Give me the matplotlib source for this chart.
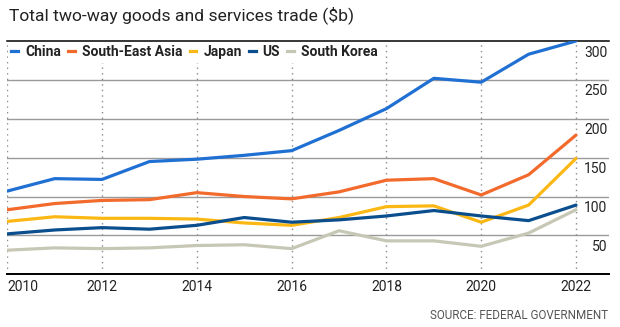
import matplotlib
matplotlib.use("Agg")
import matplotlib.pyplot as plt
from matplotlib.lines import Line2D

plt.rcParams['font.family'] = ['Roboto', 'DejaVu Sans']

years = list(range(2010, 2023))

china = [107, 123, 122, 145, 148, 153, 159, 185, 213, 252, 247, 283, 300]
south_east_asia = [83, 91, 95, 96, 105, 100, 97, 106, 121, 123, 102, 128, 179]
japan = [68, 74, 72, 72, 71, 66, 63, 73, 87, 88, 67, 89, 149]
us = [52, 57, 60, 58, 63, 73, 67, 70, 75, 82, 75, 69, 89]
south_korea = [31, 34, 33, 34, 37, 38, 33, 56, 43, 43, 36, 53, 83]

series = [
    ("China", china, "#1f70d2"),
    ("South-East Asia", south_east_asia, "#f26a2c"),
    ("Japan", japan, "#fbb814"),
    ("US", us, "#0b4e8e"),
    ("South Korea", south_korea, "#c7c7b6"),
]

y_ticks = [50, 100, 150, 200, 250, 300]
x_ticks = [2010, 2012, 2014, 2016, 2018, 2020, 2022]

W, H = 620, 327
fig = plt.figure(figsize=(W / 100, H / 100), dpi=100)
left, right, top, bottom = 7.3, 609, 41, 274.3
ax = fig.add_axes([left / W, 1 - bottom / H, (right - left) / W, (bottom - top) / H])

x_right = 2010 + (right - left) / ((576 - 7.3) / 12)
ax.set_xlim(2010, x_right)
ax.set_ylim(0, 300)

# horizontal grid and dotted year lines
for v in y_ticks[:-1]:
    ax.axhline(v, color="#9a9a9a", lw=1.0, zorder=1)
for yr in x_ticks:
    ax.axvline(yr, color="#8a8a8a", lw=1.0, ls=(0, (1, 3)), zorder=1)

for name, vals, col in series:
    ax.plot(years, vals, color=col, lw=2.3, solid_capstyle="round", label=name, zorder=3)

for s in ["left", "right"]:
    ax.spines[s].set_visible(False)
ax.spines["bottom"].set_color("black")
ax.spines["bottom"].set_linewidth(1.4)
ax.spines["top"].set_color("black")
ax.spines["top"].set_linewidth(1.1)

ax.set_yticks([])
ax.set_xticks(x_ticks)
ax.set_xticklabels([str(x) for x in x_ticks], fontsize=10, color="#222222")
ax.tick_params(axis="x", length=0, pad=4)
ax.get_xticklabels()[0].set_horizontalalignment("left")

for v in y_ticks:
    ax.annotate(str(v), xy=(1, v), xycoords=("axes fraction", "data"),
                xytext=(-1, -8.3), textcoords="offset points",
                ha="right", va="center", fontsize=10, color="#222222", zorder=5)

handles = [Line2D([0], [0], color=c, lw=2.3) for _, _, c in series]
leg = ax.legend(handles, [n for n, _, _ in series], loc="upper left",
                bbox_to_anchor=(0, 1.0), ncol=5, frameon=True,
                handlelength=0.5, handletextpad=0.5, columnspacing=0.5,
                borderpad=0.25, borderaxespad=0.05,
                prop={"weight": "bold", "size": 10})
leg.get_frame().set_facecolor("white")
leg.get_frame().set_edgecolor("none")
leg.get_frame().set_alpha(1)
leg.set_zorder(6)
for t in leg.get_texts():
    t.set_color("#222222")

fig.text(9 / W, 1 - 20 / H, "Total two-way goods and services trade ($b)",
         fontsize=12.6, color="#222222", ha="left", va="baseline")
fig.text(608 / W, 1 - 315.5 / H, "SOURCE: FEDERAL GOVERNMENT",
         fontsize=8.4, color="#555555", ha="right", va="center")

fig.savefig("out.png", dpi=100)
